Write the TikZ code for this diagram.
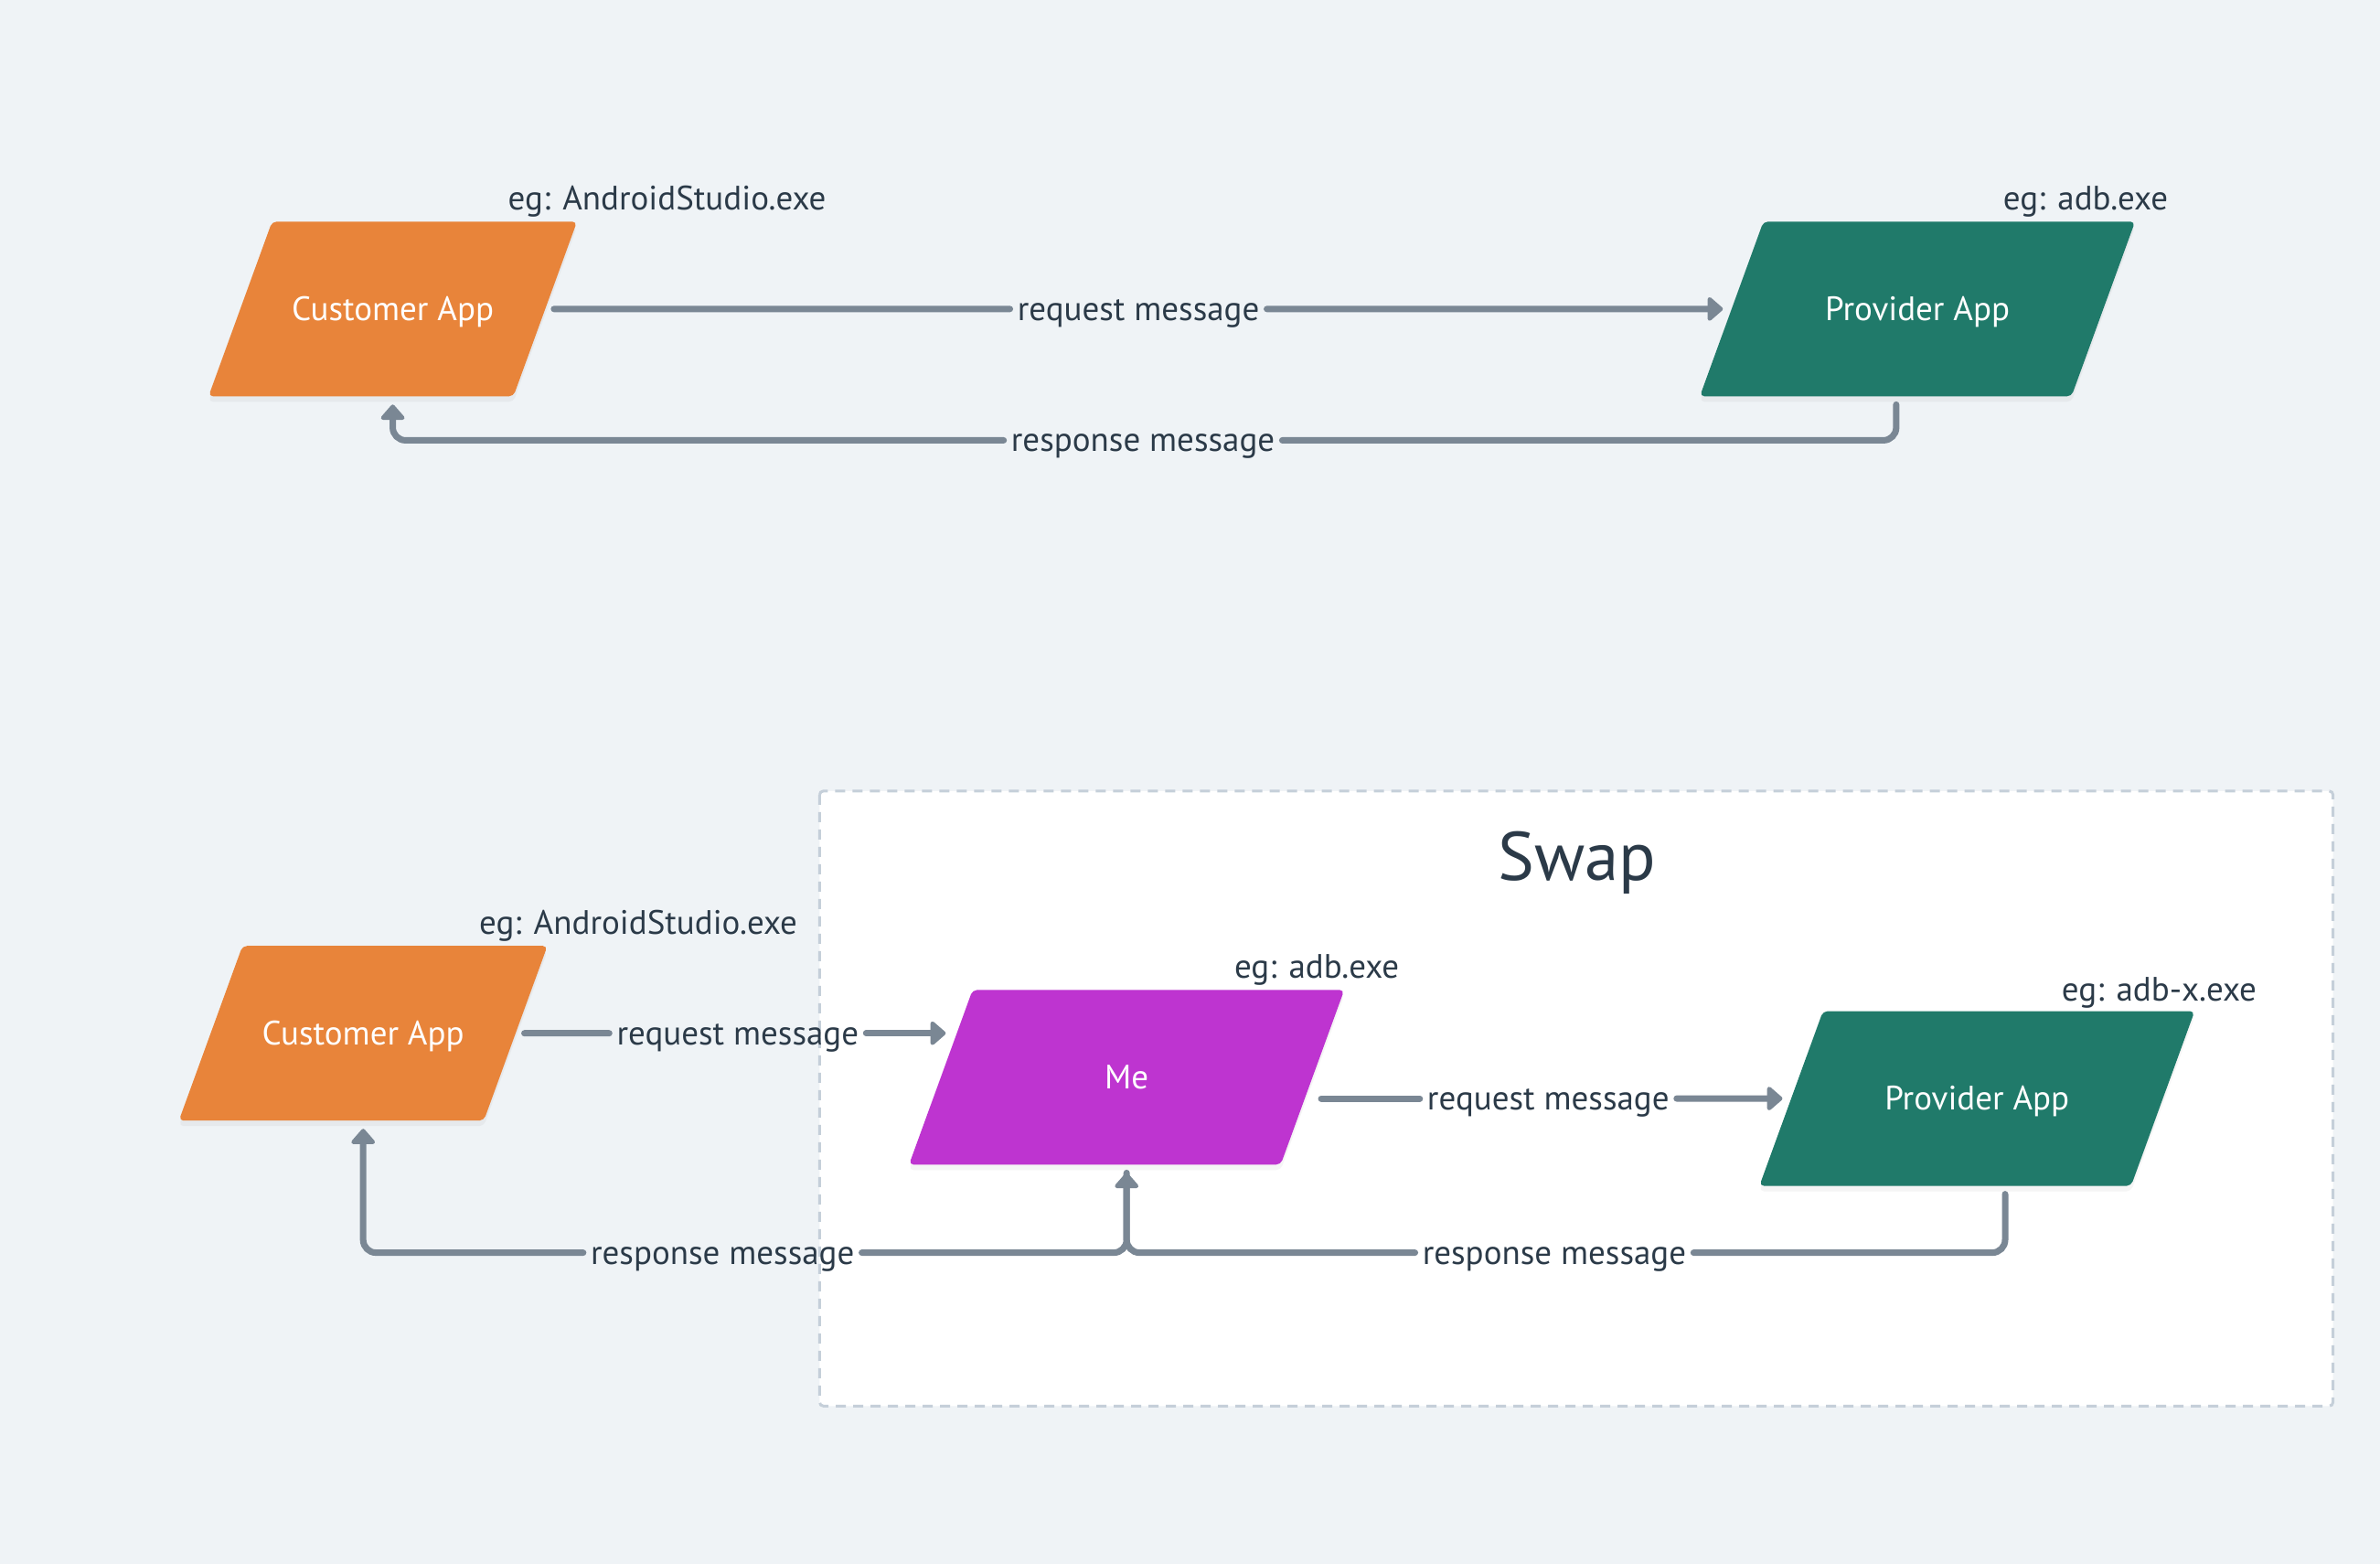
\documentclass[tikz,border=0pt]{standalone}
\usepackage{fontspec}
\setmainfont{PT Sans}
\usetikzlibrary{arrows.meta, shapes.geometric, shadows, calc}

\definecolor{bg}{HTML}{EFF3F6}
\definecolor{ink}{HTML}{2B3A48}
\definecolor{wire}{HTML}{7A8794}
\definecolor{custorange}{HTML}{E8843A}
\definecolor{provgreen}{HTML}{207A6A}
\definecolor{mepurple}{HTML}{BE34D0}
\definecolor{dashgray}{HTML}{C5CFD9}

\begin{document}
\begin{tikzpicture}[x=1.66pt, y=-1.66pt,
    app node/.style={trapezium, trapezium left angle=70, trapezium right angle=110, trapezium stretches body,
        text height=30pt, text depth=5pt, inner xsep=0pt, inner ysep=78pt, minimum height=191pt,
        rounded corners=5pt, text=white, outer sep=9pt,
        font=\fontsize{37}{44}\selectfont, drop shadow={opacity=0.08, shadow xshift=0pt, shadow yshift=-6pt}},
    small app/.style={app node, minimum width=403pt},
    big app/.style={app node, minimum width=476pt},
    msg node/.style={inner xsep=8pt, inner ysep=2pt, text height=28pt, text depth=3pt, text=ink,
        font=\fontsize{37}{44}\selectfont},
    eg node/.style={inner sep=0pt, text height=28pt, text depth=3pt, text=ink, font=\fontsize{37}{44}\selectfont},
    link/.style={draw=wire, line width=7pt, line cap=round, rounded corners=14pt},
    arrowed/.style={-{Triangle[length=18pt, width=30pt, round]}},
    swap box/.style={draw=dashgray, fill=white, line width=3pt, dash pattern=on 11pt off 8pt, rounded corners=4pt}]

\fill[bg] (0,0) rectangle (1568,1030);
\useasboundingbox (0,0) rectangle (1568,1030);

\node[small app, fill=custorange] (cust1) at (258.75,203.5) {Customer App};
\node[big app, fill=provgreen] (prov1) at (1263.25,203.5) {Provider App};
\node[eg node] (egcust1) at (439.5,131) {eg: AndroidStudio.exe};
\node[eg node] (egprov1) at (1374,131) {eg: adb.exe};

\node[msg node] (req1) at (750,203.5) {request message};
\node[msg node] (rsp1) at (753,290) {response message};

\draw[link] (cust1) -- (req1);
\draw[link, arrowed] (req1) -- (prov1);
\draw[link] ($(prov1.south)+(-14,0)$) |- (rsp1);
\draw[link, arrowed] (rsp1) -| (cust1);

\draw[swap box] (540,521) rectangle (1537,926);
\node[text=ink, font=\fontsize{75}{90}\selectfont] (swaptitle) at (1039,568) {Swap};

\node[small app, fill=custorange] (cust2) at (239.25,680.5) {Customer App};
\node[big app, fill=mepurple] (me) at (742.25,709.5) {Me};
\node[big app, fill=provgreen] (prov2) at (1302.5,723.5) {Provider App};
\node[eg node] (egcust2) at (420.5,608) {eg: AndroidStudio.exe};
\node[eg node] (egme) at (867.5,637) {eg: adb.exe};
\node[eg node] (egprov2) at (1422.5,652) {eg: adb-x.exe};

\node[msg node] (req1b) at (486,680.5) {request message};
\node[msg node] (req2) at (1020,723.5) {request message};
\node[msg node] (rsp2) at (476,825) {response message};
\node[msg node] (rsp3) at (1024,825) {response message};

\draw[link] (cust2) -- (req1b);
\draw[link, arrowed] (req1b) -- ($(req1b -| me.west)+(9,0)$);
\draw[link] (req2 -| me.east) -- (req2);
\draw[link, arrowed] (req2) -- (prov2);
\draw[link] ($(prov2.south)+(18.5,0)$) |- (rsp3);
\draw[link, arrowed] (rsp3) -| (me);
\draw[link] (me) |- (rsp2);
\draw[link, arrowed] (rsp2) -| (cust2);
\end{tikzpicture}
\end{document}
